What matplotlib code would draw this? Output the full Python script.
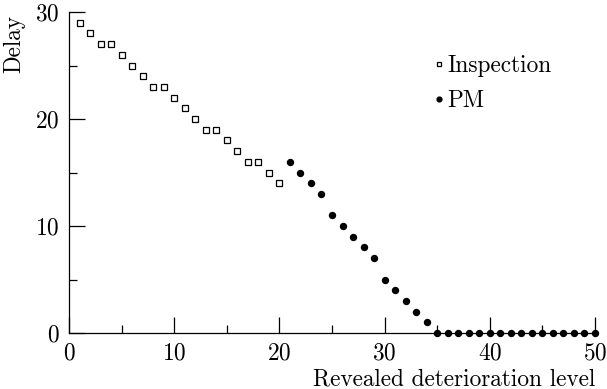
import matplotlib
matplotlib.use("Agg")
import matplotlib.pyplot as plt

plt.rcParams['font.family'] = ['cmr10', 'DejaVu Serif']
plt.rcParams['mathtext.fontset'] = 'cm'
plt.rcParams['axes.formatter.use_mathtext'] = True
plt.rcParams['axes.unicode_minus'] = False

insp_x = list(range(1, 21))
insp_y = [29, 28, 27, 27, 26, 25, 24, 23, 23, 22, 21, 20, 19, 19, 18, 17, 16, 16, 15, 14]
pm_x = list(range(21, 51))
pm_y = [16, 15, 14, 13, 11, 10, 9, 8, 7, 5, 4, 3, 2, 1] + [0] * 16

x_ticks = [0, 10, 20, 30, 40, 50]
y_ticks = [0, 10, 20, 30]

FS = 16.8

fig = plt.figure(figsize=(6.07, 3.89), dpi=100)
ax = fig.add_axes([69/607, 1-333/389, (595-69)/607, (333-12)/389])

ax.plot(insp_x, insp_y, linestyle='none', marker='s', markersize=4.0,
        markerfacecolor='white', markeredgecolor='black', markeredgewidth=0.9,
        clip_on=False, label='Inspection')
ax.plot(pm_x, pm_y, linestyle='none', marker='o', markersize=4.3,
        color='black', clip_on=False, label='PM')

ax.set_xlim(0, 50)
ax.set_ylim(0, 30)
ax.set_xticks(x_ticks)
ax.set_yticks(y_ticks)
ax.set_xticks([5, 15, 25, 35, 45], minor=True)
ax.set_yticks([5, 15, 25], minor=True)

for s in ['top', 'right']:
    ax.spines[s].set_visible(False)
for s in ['left', 'bottom']:
    ax.spines[s].set_linewidth(0.9)

ax.tick_params(which='major', direction='in', length=11.5, width=0.9, labelsize=FS, pad=7)
ax.tick_params(which='minor', direction='in', length=5.8, width=0.9)

ax.set_xlabel('Revealed deterioration level', fontsize=FS, loc='right')
ax.set_ylabel('Delay', fontsize=FS, loc='top')
ax.xaxis.set_label_coords(1.0, (333-368)/321)
ax.yaxis.set_label_coords((25-69)/526, (333-15)/321)

leg = ax.legend(loc='upper left', bbox_to_anchor=((423-69)/526, (333-43)/321), frameon=False,
                fontsize=FS, handlelength=0.35, handletextpad=0.2,
                labelspacing=0.55, markerscale=0.8, borderpad=0)

fig.savefig('out.png', dpi=100)
